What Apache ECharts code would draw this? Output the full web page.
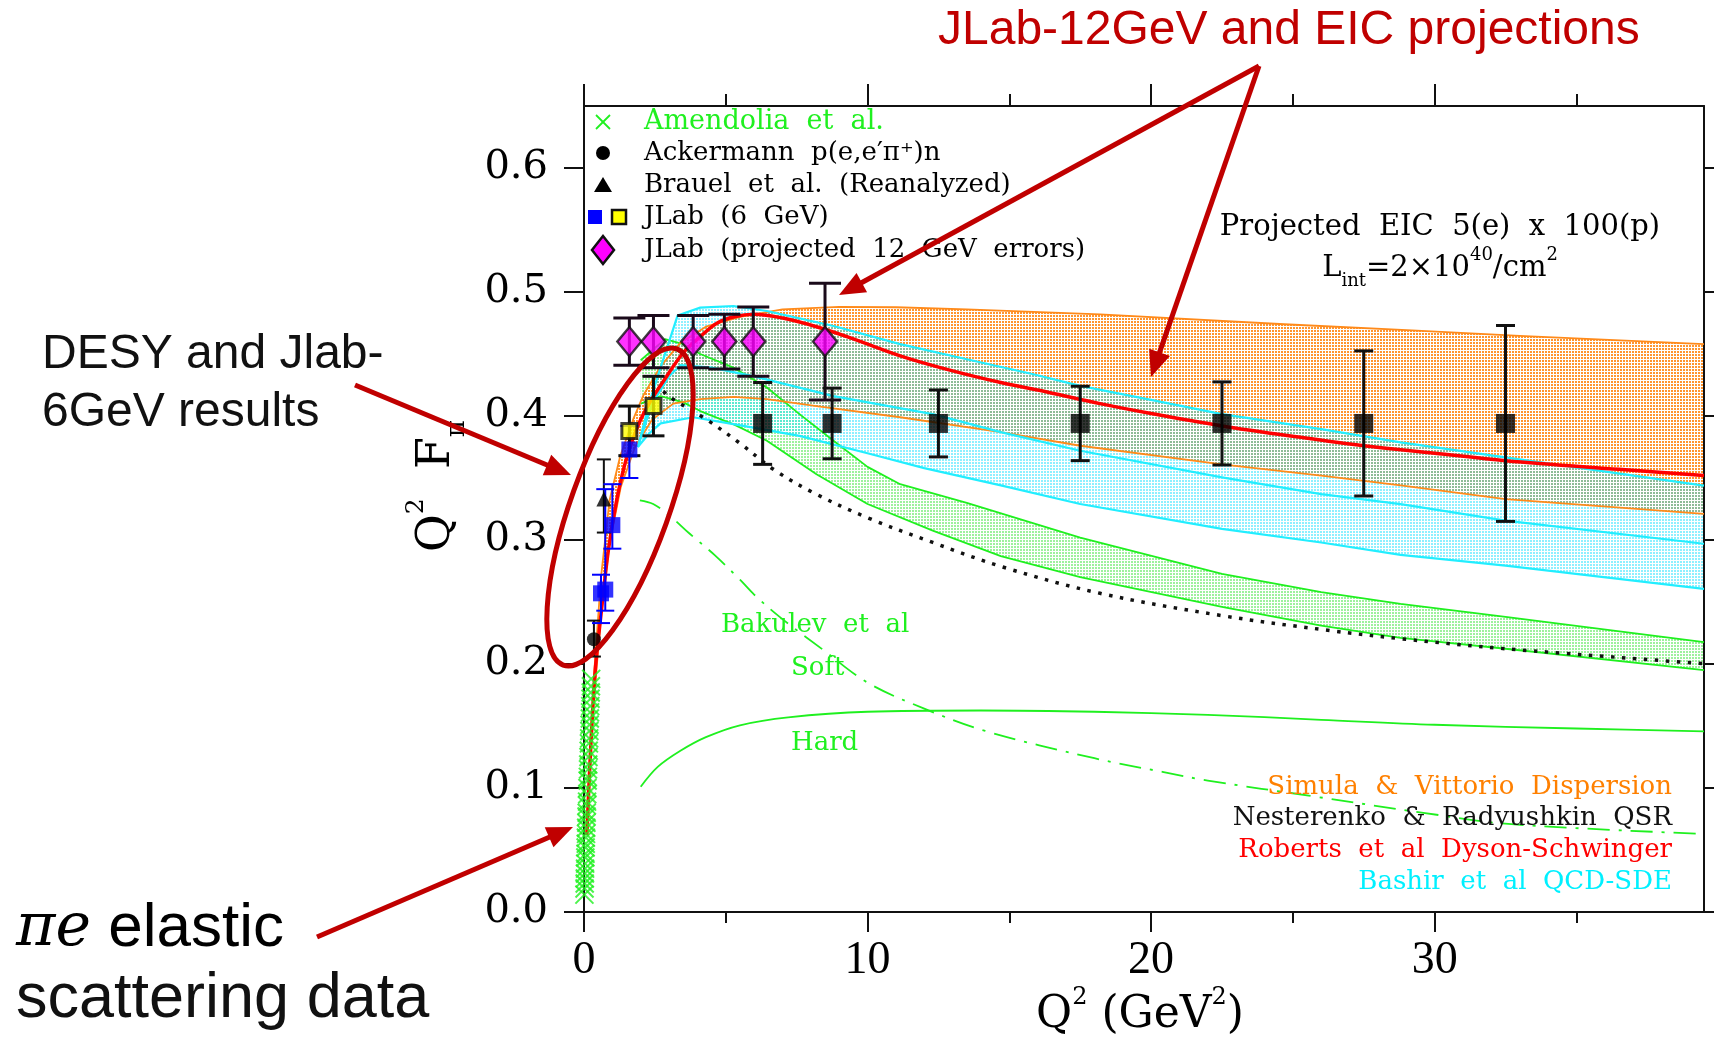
<!DOCTYPE html>
<html>
<head>
<meta charset="utf-8">
<script src="https://cdn.jsdelivr.net/npm/echarts@6/dist/echarts.min.js"></script>
<style>
  html, body { margin: 0; padding: 0; background: #fff; }
  #chart { width: 1714px; height: 1037px; }
</style>
</head>
<body>
<div id="chart"></div>
<script>
// ---------------- measured data: Q^2 (GeV^2) and Q^2 F_pi ----------------
const amendoliaQ2  = [0.015,0.019,0.024,0.028,0.033,0.037,0.042,0.047,0.052,0.057,0.062,0.067,0.072,0.078,0.084,0.090,0.096,0.102,0.108,0.115,0.122,0.129,0.136,0.143,0.150,0.158,0.166,0.174,0.182,0.190,0.198,0.206,0.214,0.222,0.230,0.238,0.245,0.253];
const amendoliaQ2F = [0.014,0.019,0.023,0.027,0.031,0.035,0.039,0.044,0.047,0.052,0.055,0.060,0.063,0.068,0.072,0.077,0.080,0.086,0.089,0.095,0.100,0.106,0.109,0.115,0.119,0.125,0.130,0.136,0.140,0.146,0.151,0.156,0.161,0.166,0.172,0.177,0.182,0.188];

const ackermannQ2 = [0.35];
const ackermannQ2F = [0.220];
const ackermannLow = [0.206];
const ackermannHigh = [0.235];

const brauelQ2 = [0.70];
const brauelQ2F = [0.333];
const brauelLow = [0.306];
const brauelHigh = [0.365];

const jlab6BlueQ2 = [0.60, 0.75, 1.00, 1.60];
const jlab6BlueQ2F = [0.257, 0.260, 0.312, 0.373];
const jlab6BlueLow = [0.233, 0.243, 0.293, 0.350];
const jlab6BlueHigh = [0.272, 0.341, 0.345, 0.392];

const jlab6YellowQ2 = [1.60, 2.45];
const jlab6YellowQ2F = [0.388, 0.408];
const jlab6YellowErr = [0.020, 0.024];

const jlab12Q2 = [1.60, 2.45, 3.85, 4.95, 5.97, 8.50];
const jlab12Q2F = [0.460, 0.460, 0.460, 0.460, 0.460, 0.460];
const jlab12Err = [0.019, 0.021, 0.021, 0.022, 0.028, 0.047];

const eicQ2 = [6.3, 8.75, 12.5, 17.5, 22.5, 27.5, 32.5];
const eicQ2F = [0.394, 0.394, 0.394, 0.394, 0.394, 0.394, 0.394];
const eicErr = [0.033, 0.0285, 0.027, 0.030, 0.0335, 0.0585, 0.079];

// ---------------- model curves [Q^2, Q^2 F_pi] ----------------
const robertsDSE = [[0.1,0.062],[0.2,0.115],[0.3,0.160],[0.4,0.196],[0.6,0.240],[0.86,0.292],[1.16,0.333],[1.5,0.366],[1.92,0.393],[2.32,0.411],[2.8,0.428],[3.5,0.451],[4.1,0.464],[4.7,0.475],[5.3,0.480],[6.0,0.482],[7.0,0.479],[8.2,0.472],[9.4,0.463],[11.15,0.4485],[12.9,0.437],[14.7,0.427],[16.4,0.419],[18.2,0.410],[20.0,0.402],[22.5,0.392],[25.2,0.383],[27.5,0.376],[30.0,0.370],[32.5,0.364],[36.5,0.357],[39.5,0.352]];

const simulaUpper = [[0.35,0.19],[0.6,0.27],[0.9,0.332],[1.27,0.367],[1.73,0.397],[2.1,0.417],[2.7,0.440],[3.4,0.459],[4.3,0.472],[5.5,0.480],[7.0,0.486],[9.0,0.488],[11.0,0.4877],[13.5,0.486],[18.2,0.482],[24.7,0.474],[29.2,0.469],[33.0,0.4646],[39.5,0.458]];
const simulaLower = [[0.35,0.17],[0.6,0.24],[0.9,0.297],[1.3,0.343],[1.8,0.375],[2.4,0.397],[3.15,0.410],[4.1,0.4136],[5.27,0.4155],[6.45,0.4136],[8.2,0.408],[11.15,0.399],[14.7,0.387],[17.5,0.376],[22.5,0.361],[26.0,0.352],[28.8,0.344],[32.5,0.333],[39.5,0.321]];

const bashirUpper = [[1.9,0.375],[2.3,0.41],[2.6,0.432],[3.0,0.46],[3.3,0.481],[4.1,0.4874],[5.27,0.4887],[6.45,0.4847],[8.8,0.4726],[11.15,0.458],[13.5,0.4458],[15.85,0.4337],[17.5,0.4243],[20.0,0.413],[22.5,0.4015],[26.0,0.3894],[28.8,0.3787],[32.5,0.3666],[39.5,0.3438]];
const bashirMiddle = [[1.9,0.375],[2.4,0.41],[3.0,0.432],[3.4,0.441],[4.5,0.439],[6.0,0.432],[8.8,0.416],[12.3,0.4015],[14.7,0.387],[17.5,0.372],[22.5,0.3505],[26.0,0.337],[28.8,0.329],[32.5,0.3156],[39.5,0.297]];
const bashirLower = [[1.9,0.375],[2.3,0.386],[2.7,0.394],[3.85,0.399],[5.27,0.3935],[7.6,0.384],[10.0,0.370],[12.0,0.358],[14.7,0.344],[17.5,0.329],[22.5,0.309],[26.0,0.298],[28.8,0.288],[32.5,0.2794],[39.5,0.2606]];

const bakulevUpper = [[2.0,0.445],[2.86,0.462],[3.5,0.458],[4.1,0.450],[5.27,0.439],[6.45,0.423],[7.6,0.4015],[8.8,0.380],[10.0,0.359],[11.15,0.345],[13.5,0.330],[17.5,0.302],[22.5,0.2727],[26.0,0.258],[28.8,0.2485],[32.5,0.238],[39.5,0.2176]];
const bakulevLower = [[2.0,0.41],[2.7,0.416],[3.5,0.411],[4.1,0.404],[5.3,0.393],[6.45,0.380],[8.2,0.353],[10.0,0.329],[12.3,0.3076],[14.7,0.287],[17.5,0.270],[22.5,0.246],[26.0,0.231],[28.8,0.221],[32.5,0.2123],[39.5,0.195]];
const bakulevSoft = [[1.97,0.332],[2.44,0.329],[3.05,0.319],[3.73,0.305],[4.6,0.288],[5.5,0.268],[6.0,0.256],[6.9,0.238],[8.4,0.212],[10.0,0.185],[12.0,0.164],[14.15,0.146],[18.0,0.124],[20.4,0.113],[22.0,0.106],[25.8,0.093],[29.6,0.080],[32.6,0.071],[39.5,0.063]];
const bakulevHard = [[2.0,0.101],[2.6,0.117],[3.4,0.130],[4.3,0.141],[5.5,0.1506],[7.2,0.157],[10.0,0.1615],[14.0,0.1625],[18.0,0.1615],[22.0,0.159],[26.0,0.155],[30.0,0.151],[35.0,0.148],[39.5,0.1456]];

const nesterenkoQSR = [[2.8,0.42],[3.04,0.415],[4.33,0.397],[5.5,0.378],[6.68,0.357],[8.1,0.338],[10.0,0.318],[12.3,0.298],[14.8,0.278],[18.2,0.257],[22.5,0.239],[26.3,0.227],[28.8,0.2204],[32.5,0.2123],[39.5,0.2003]];

// ---------------- axis ticks ----------------
const xLabelTicks = [0, 10, 20, 30];
const xMinorTicks = [5, 15, 25, 35];
const yTicks = [0, 0.1, 0.2, 0.3, 0.4, 0.5, 0.6];

// ---------------- styling helpers ----------------
const SERIF = '"DejaVu Serif", serif';
const SANS = '"Liberation Sans", Arial, sans-serif';
const DARK_RED = '#c00000';
const GREEN = '#1ff01f';
const ORANGE = '#ff8a1a';
const CYAN = '#22eeff';

// fine grid hatching used for the theory bands
function hatch(color) {
  const c = document.createElement('canvas');
  c.width = 3; c.height = 3;
  const g = c.getContext('2d');
  g.fillStyle = color;
  g.fillRect(0, 0, 2, 2);
  return { image: c, repeat: 'repeat' };
}

function band(upper, lower, fill, z) {
  return {
    type: 'custom', xAxisIndex: 0, yAxisIndex: 0, z, silent: true, clip: true,
    data: [[upper[0][0], upper[0][1]]],
    encode: { x: 0, y: 1 },
    renderItem: (params, api) => {
      const pts = upper.map(p => api.coord(p))
        .concat(lower.slice().reverse().map(p => api.coord(p)));
      return { type: 'polygon', shape: { points: pts }, style: { fill: fill, stroke: null } };
    }
  };
}

function curve(data, color, width, type, z, smooth) {
  return {
    type: 'line', xAxisIndex: 0, yAxisIndex: 0, data,
    showSymbol: false, symbol: 'none', smooth: smooth || false,
    z, silent: true, clip: true,
    lineStyle: { color, width, type: type || 'solid', cap: 'butt', join: 'round' }
  };
}

function errorBars(xs, lows, highs, color, capWidth, lineWidth, z) {
  return {
    type: 'custom', xAxisIndex: 0, yAxisIndex: 0, z, silent: true, clip: false,
    data: xs.map((x, i) => [x, lows[i], highs[i]]),
    encode: { x: 0, y: [1, 2] },
    renderItem: (params, api) => {
      const lo = api.coord([api.value(0), api.value(1)]);
      const hi = api.coord([api.value(0), api.value(2)]);
      const h = capWidth / 2;
      const st = () => ({ stroke: color, lineWidth: lineWidth });
      return { type: 'group', children: [
        { type: 'line', shape: { x1: lo[0], y1: lo[1], x2: hi[0], y2: hi[1] }, style: st() },
        { type: 'line', shape: { x1: lo[0] - h, y1: lo[1], x2: lo[0] + h, y2: lo[1] }, style: st() },
        { type: 'line', shape: { x1: hi[0] - h, y1: hi[1], x2: hi[0] + h, y2: hi[1] }, style: st() }
      ]};
    }
  };
}

function points(xs, ys, symbol, size, itemStyle, z) {
  return {
    type: 'scatter', xAxisIndex: 0, yAxisIndex: 0, z, silent: true,
    data: xs.map((x, i) => [x, ys[i]]),
    symbol, symbolSize: size, itemStyle
  };
}

const pm = (v, e, s) => v.map((y, i) => +(y + s * e[i]).toFixed(4));

// ---------------- axes ----------------
const axisLineStyle = { color: '#111', width: 2 };
function xAx(position, showLine, ticks, len, labels) {
  return {
    type: 'value', gridIndex: 0, min: 0, max: 39.5, position,
    axisLine: { show: showLine, onZero: false, lineStyle: axisLineStyle },
    axisTick: { show: true, inside: false, length: len, customValues: ticks, lineStyle: { color: '#111', width: 2 } },
    axisLabel: labels ? { show: true, customValues: labels, margin: 26, color: '#000',
      fontFamily: '"Liberation Serif", serif', fontSize: 46 } : { show: false },
    splitLine: { show: false }
  };
}
function yAx(position, len, labels) {
  return {
    type: 'value', gridIndex: 0, min: 0, max: 0.65, interval: 0.1, position,
    axisLine: { show: true, onZero: false, lineStyle: axisLineStyle },
    axisTick: { show: true, inside: false, length: len, customValues: yTicks, lineStyle: { color: '#111', width: 2 } },
    axisLabel: labels ? { show: true, customValues: yTicks, margin: 36, color: '#000',
      fontFamily: SERIF, fontSize: 40, formatter: v => v.toFixed(1) } : { show: false },
    splitLine: { show: false }
  };
}

// ---------------- series ----------------
const crossSymbol = 'path://M0,0L10,10M10,0L0,10';
const series = [
  band(bakulevUpper, bakulevLower, hatch('rgba(40,225,40,0.45)'), 1),
  band(simulaUpper, simulaLower, hatch('rgba(255,130,10,0.85)'), 1),
  band(bashirUpper, bashirLower, hatch('rgba(30,225,255,0.50)'), 1),

  curve(bakulevUpper, GREEN, 1.8, 'solid', 2),
  curve(bakulevLower, GREEN, 1.8, 'solid', 2),
  curve(simulaUpper, ORANGE, 1.8, 'solid', 2),
  curve(simulaLower, ORANGE, 1.8, 'solid', 2),
  curve(bashirUpper, CYAN, 2.2, 'solid', 2),
  curve(bashirMiddle, CYAN, 2.2, 'solid', 2),
  curve(bashirLower, CYAN, 2.2, 'solid', 2),
  curve(bakulevSoft, GREEN, 1.8, [22, 9, 3, 9], 3, 0.35),
  curve(bakulevHard, GREEN, 1.8, 'solid', 3, 0.35),
  curve(nesterenkoQSR, '#111', 3.5, [3.5, 7.5], 3, 0.35),
  curve(robertsDSE, '#ff0000', 3.5, 'solid', 4, 0.35),

  points(amendoliaQ2, amendoliaQ2F, crossSymbol, 18, { color: 'rgba(0,0,0,0)', borderColor: GREEN, borderWidth: 2 }, 5),

  errorBars(ackermannQ2, ackermannLow, ackermannHigh, '#111', 14, 2, 5),
  errorBars(brauelQ2, brauelLow, brauelHigh, '#111', 14, 2, 5),
  errorBars(jlab6BlueQ2, jlab6BlueLow, jlab6BlueHigh, '#0000ff', 18, 2, 6),
  errorBars(jlab6YellowQ2, pm(jlab6YellowQ2F, jlab6YellowErr, -1), pm(jlab6YellowQ2F, jlab6YellowErr, 1), '#111', 22, 3, 6),
  errorBars(jlab12Q2, pm(jlab12Q2F, jlab12Err, -1), pm(jlab12Q2F, jlab12Err, 1), '#1a0a1a', 32, 3, 6),
  errorBars(eicQ2, pm(eicQ2F, eicErr, -1), pm(eicQ2F, eicErr, 1), '#111', 19, 3, 6),

  points(ackermannQ2, ackermannQ2F, 'circle', 14, { color: '#000' }, 7),
  points(brauelQ2, brauelQ2F, 'triangle', 15, { color: '#000' }, 7),
  points(jlab6BlueQ2, jlab6BlueQ2F, 'rect', 16, { color: '#0000ff' }, 7),
  points(jlab6YellowQ2, jlab6YellowQ2F, 'rect', 15, { color: '#ffff00', borderColor: '#111', borderWidth: 3 }, 8),
  points(jlab12Q2, jlab12Q2F, 'diamond', [24, 29], { color: '#ff00ff', borderColor: '#111', borderWidth: 2.5 }, 8),
  points(eicQ2, eicQ2F, 'rect', 19, { color: '#000' }, 8)
];

// ---------------- legend, labels and annotations ----------------
const G = [];
function text(x, y, str, style, extra) {
  G.push(Object.assign({
    type: 'text', x, y, silent: true, z: 100,
    style: Object.assign({ text: str, fill: '#000', align: 'left', verticalAlign: 'middle',
      fontFamily: SERIF, fontSize: 26 }, style)
  }, extra || {}));
}
function arrow(x1, y1, x2, y2) {
  const len = Math.hypot(x2 - x1, y2 - y1);
  const ux = (x2 - x1) / len, uy = (y2 - y1) / len;
  const hl = 26, hw = 11;
  const bx = x2 - ux * hl, by = y2 - uy * hl;
  G.push({ type: 'line', silent: true, z: 100,
    shape: { x1, y1, x2: bx + ux * 2, y2: by + uy * 2 },
    style: { stroke: DARK_RED, lineWidth: 5 } });
  G.push({ type: 'polygon', silent: true, z: 100,
    shape: { points: [[x2, y2], [bx - uy * hw, by + ux * hw], [bx + uy * hw, by - ux * hw]] },
    style: { fill: DARK_RED } });
}

// legend block
const lx = 603, tx = 644;
const rows = [122, 153, 185, 217, 250];
G.push({ type: 'line', silent: true, z: 100, shape: { x1: lx - 7, y1: rows[0] - 7, x2: lx + 7, y2: rows[0] + 7 }, style: { stroke: GREEN, lineWidth: 1.8 } });
G.push({ type: 'line', silent: true, z: 100, shape: { x1: lx + 7, y1: rows[0] - 7, x2: lx - 7, y2: rows[0] + 7 }, style: { stroke: GREEN, lineWidth: 1.8 } });
G.push({ type: 'circle', silent: true, z: 100, shape: { cx: lx, cy: rows[1], r: 7 }, style: { fill: '#000' } });
G.push({ type: 'polygon', silent: true, z: 100, shape: { points: [[lx, rows[2] - 8], [lx - 9, rows[2] + 7], [lx + 9, rows[2] + 7]] }, style: { fill: '#000' } });
G.push({ type: 'rect', silent: true, z: 100, shape: { x: 588, y: rows[3] - 7, width: 14, height: 14 }, style: { fill: '#0000ff' } });
G.push({ type: 'rect', silent: true, z: 100, shape: { x: 612, y: rows[3] - 7, width: 14, height: 14 }, style: { fill: '#ffff00', stroke: '#111', lineWidth: 2.5 } });
G.push({ type: 'polygon', silent: true, z: 100, shape: { points: [[lx, rows[4] - 14], [lx + 11, rows[4]], [lx, rows[4] + 14], [lx - 11, rows[4]]] }, style: { fill: '#ff00ff', stroke: '#111', lineWidth: 2.5 } });
text(tx, rows[0], 'Amendolia  et  al.', { fill: GREEN, fontSize: 27 });
text(tx, rows[1], 'Ackermann  p(e,e\u2032\u03c0\u207a)n');
text(tx, rows[2], 'Brauel  et  al.  (Reanalyzed)');
text(tx, rows[3], 'JLab  (6  GeV)');
text(tx, rows[4], 'JLab  (projected  12  GeV  errors)');

// EIC note
text(1440, 227, 'Projected  EIC  5(e)  x  100(p)', { align: 'center', fontSize: 29 });
text(1440, 268, '{m|L}{sb|int}{m|=2\u00d710}{sp|40}{m|/cm}{sp|2}', {
  align: 'center', rich: {
    m: { fontFamily: SERIF, fontSize: 29, lineHeight: 44, verticalAlign: 'middle' },
    sb: { fontFamily: SERIF, fontSize: 18, lineHeight: 18, verticalAlign: 'bottom' },
    sp: { fontFamily: SERIF, fontSize: 18, lineHeight: 18, verticalAlign: 'top' }
  }
});

// Bakulev labels
text(721, 625, 'Bakulev  et  al', { fill: GREEN });
text(791, 668, 'Soft', { fill: GREEN });
text(791, 743, 'Hard', { fill: GREEN });

// model key, lower right
text(1672, 787, 'Simula  &  Vittorio  Dispersion', { align: 'right', fill: '#ff8000' });
text(1672, 818, 'Nesterenko  &  Radyushkin  QSR', { align: 'right', fill: '#111' });
text(1672, 850, 'Roberts  et  al  Dyson-Schwinger', { align: 'right', fill: '#ff0000' });
text(1672, 882, 'Bashir  et  al  QCD-SDE', { align: 'right', fill: '#00f0ff' });

// axis titles
text(1140, 1016, '{m|Q}{s|2}{m| (GeV}{s|2}{m|)}', {
  align: 'center', rich: {
    m: { fontFamily: SERIF, fontSize: 44, lineHeight: 60, verticalAlign: 'middle' },
    s: { fontFamily: SERIF, fontSize: 24, lineHeight: 24, verticalAlign: 'top' }
  }
});
text(437, 486, '{m|Q}{s|2}{m|  F}{b|\u03c0}', {
  align: 'center', rich: {
    m: { fontFamily: SERIF, fontSize: 46, lineHeight: 66, verticalAlign: 'middle' },
    s: { fontFamily: SERIF, fontSize: 25, lineHeight: 25, verticalAlign: 'top' },
    b: { fontFamily: SERIF, fontSize: 26, lineHeight: 26, verticalAlign: 'bottom' }
  }
}, { rotation: Math.PI / 2 });

// annotations around the plot
text(938, 31, 'JLab-12GeV and EIC projections', { fontFamily: SANS, fontSize: 48, fill: DARK_RED });
text(42, 355, 'DESY and Jlab-', { fontFamily: SANS, fontSize: 48, fill: '#111' });
text(42, 413, '6GeV results', { fontFamily: SANS, fontSize: 48, fill: '#111' });
text(16, 929, '{i|\u03c0e}{n| elastic}', { rich: {
  i: { fontFamily: SERIF, fontStyle: 'italic', fontSize: 60 },
  n: { fontFamily: SANS, fontSize: 62 }
}});
text(16, 1000, 'scattering data', { fontFamily: SANS, fontSize: 63, fill: '#111' });

arrow(1259, 66, 839, 295);
arrow(1259, 66, 1151, 377);
arrow(355, 385, 571, 475);
arrow(317, 937, 573, 827);

G.push({ type: 'ellipse', silent: true, z: 100, x: 620, y: 507, rotation: -0.345,
  shape: { cx: 0, cy: 0, rx: 49, ry: 168 },
  style: { fill: null, stroke: DARK_RED, lineWidth: 5 } });

// ---------------- chart ----------------
const chart = echarts.init(document.getElementById('chart'), null, { renderer: 'canvas' });
chart.setOption({
  animation: false,
  backgroundColor: '#ffffff',
  grid: { left: 584, right: 10, top: 106, bottom: 125, containLabel: false },
  xAxis: [
    xAx('bottom', true, xLabelTicks, 20, xLabelTicks),
    xAx('bottom', false, xMinorTicks, 11, null),
    xAx('top', true, xLabelTicks, 22, null),
    xAx('top', false, xMinorTicks, 12, null)
  ],
  yAxis: [
    yAx('left', 20, true),
    yAx('right', 10, false)
  ],
  series,
  graphic: { elements: G }
});
</script>
</body>
</html>
